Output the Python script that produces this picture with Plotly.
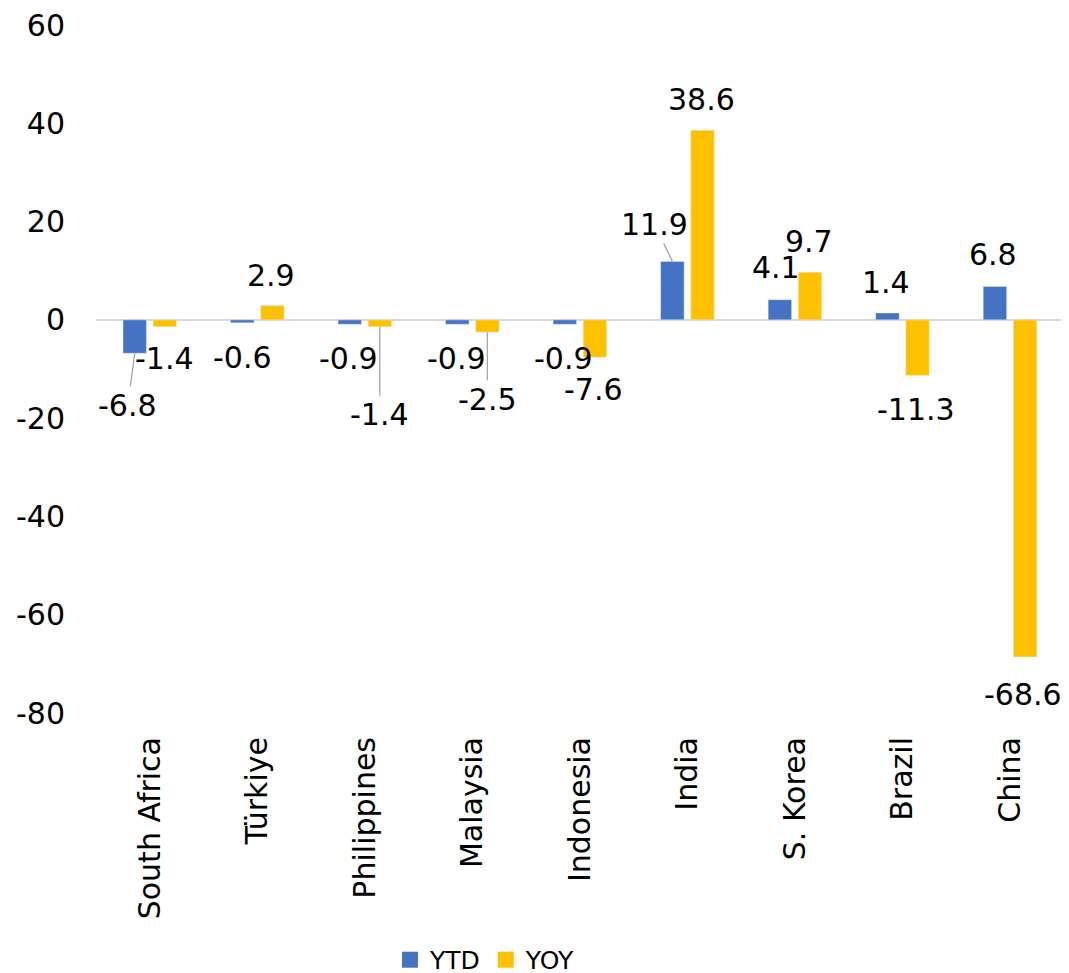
import plotly.graph_objects as go

categories = ["South Africa", "Türkiye", "Philippines", "Malaysia", "Indonesia",
              "India", "S. Korea", "Brazil", "China"]
ytd = [-6.8, -0.6, -0.9, -0.9, -0.9, 11.9, 4.1, 1.4, 6.8]
yoy = [-1.4, 2.9, -1.4, -2.5, -7.6, 38.6, 9.7, -11.3, -68.6]
y_tickvals = [-80, -60, -40, -20, 0, 20, 40, 60]
y_ticktext = ["-80", "-60", "-40", "-20", "0", "20", "40", "60"]

# label offsets in pixels relative to the bar end (dx from bar centre, dy upward)
ytd_off = [(-7, -52), (0, -35), (-1, -34), (-1, -34), (-1, -34),
           (-18, 37), (-4, 32), (-1, 30), (-2, 32)]
yoy_off = [(0, -32), (-1, 30), (0, -88), (0, -67), (-1, -32),
           (-1, 31), (-1, 31), (-1, -34), (-2, -38)]
ytd_leader = [True, False, False, False, False, True, False, False, False]
yoy_leader = [False, False, True, True, False, False, False, False, False]

FONT = "DejaVu Sans"
BLUE = "#4472C4"
GOLD = "#FFC000"
FS = 30

fig = go.Figure()
fig.add_trace(go.Bar(x=categories, y=ytd, name="YTD", marker_color=BLUE, showlegend=False))
fig.add_trace(go.Bar(x=categories, y=yoy, name="YOY", marker_color=GOLD, showlegend=False))
# legend entries with larger square swatches
fig.add_trace(go.Scatter(x=[None], y=[None], mode="markers", name="YTD",
                         marker=dict(symbol="square", size=16, color=BLUE)))
fig.add_trace(go.Scatter(x=[None], y=[None], mode="markers", name="YOY",
                         marker=dict(symbol="square", size=16, color=GOLD)))

annotations = []
BAR_OFF = 15
for series, offs, leaders, sign in [(ytd, ytd_off, ytd_leader, -1), (yoy, yoy_off, yoy_leader, 1)]:
    for cat, v, (dx, dy), lead in zip(categories, series, offs, leaders):
        txt = f"{v:.1f}"
        if lead:
            annotations.append(dict(
                x=cat, y=v, xref="x", yref="y", text=txt,
                showarrow=True, arrowhead=0, arrowwidth=1.3, arrowcolor="#a6a6a6",
                xshift=sign * BAR_OFF, ax=dx, ay=-dy,
                standoff=0, startstandoff=0,
                font=dict(family=FONT, size=FS, color="#000000"),
            ))
        else:
            annotations.append(dict(
                x=cat, y=v, xref="x", yref="y", text=txt, showarrow=False,
                xshift=sign * BAR_OFF + dx, yshift=dy,
                font=dict(family=FONT, size=FS, color="#000000"),
            ))

# page body has an 8px default margin, so the figure is sized to fit inside the window
fig.update_layout(
    width=1061, height=965,
    margin=dict(l=88, r=5, t=17, b=260),
    paper_bgcolor="white", plot_bgcolor="white",
    barmode="group", bargap=0.44, bargroupgap=0.22,
    font=dict(family=FONT, size=FS, color="#000000"),
    showlegend=True,
    legend=dict(orientation="h", xref="container", yref="container",
                x=0.36, xanchor="left", y=0.0135, yanchor="middle",
                font=dict(family=FONT, size=25),
                traceorder="normal", bgcolor="rgba(0,0,0,0)"),
    annotations=annotations,
    xaxis=dict(tickangle=-90, showgrid=False, showline=False, ticks="",
               automargin=False, ticklabelstandoff=17,
               tickfont=dict(family=FONT, size=FS)),
    yaxis=dict(range=[-80, 60], tickvals=y_tickvals, ticktext=y_ticktext,
               showgrid=False, zeroline=True, automargin=False,
               ticklabeloverflow="allow",
               zerolinecolor="#d9d9d9", zerolinewidth=2, showline=False, ticks="",
               tickfont=dict(family=FONT, size=FS), ticklabelstandoff=30),
)

fig.write_html("out.html")
